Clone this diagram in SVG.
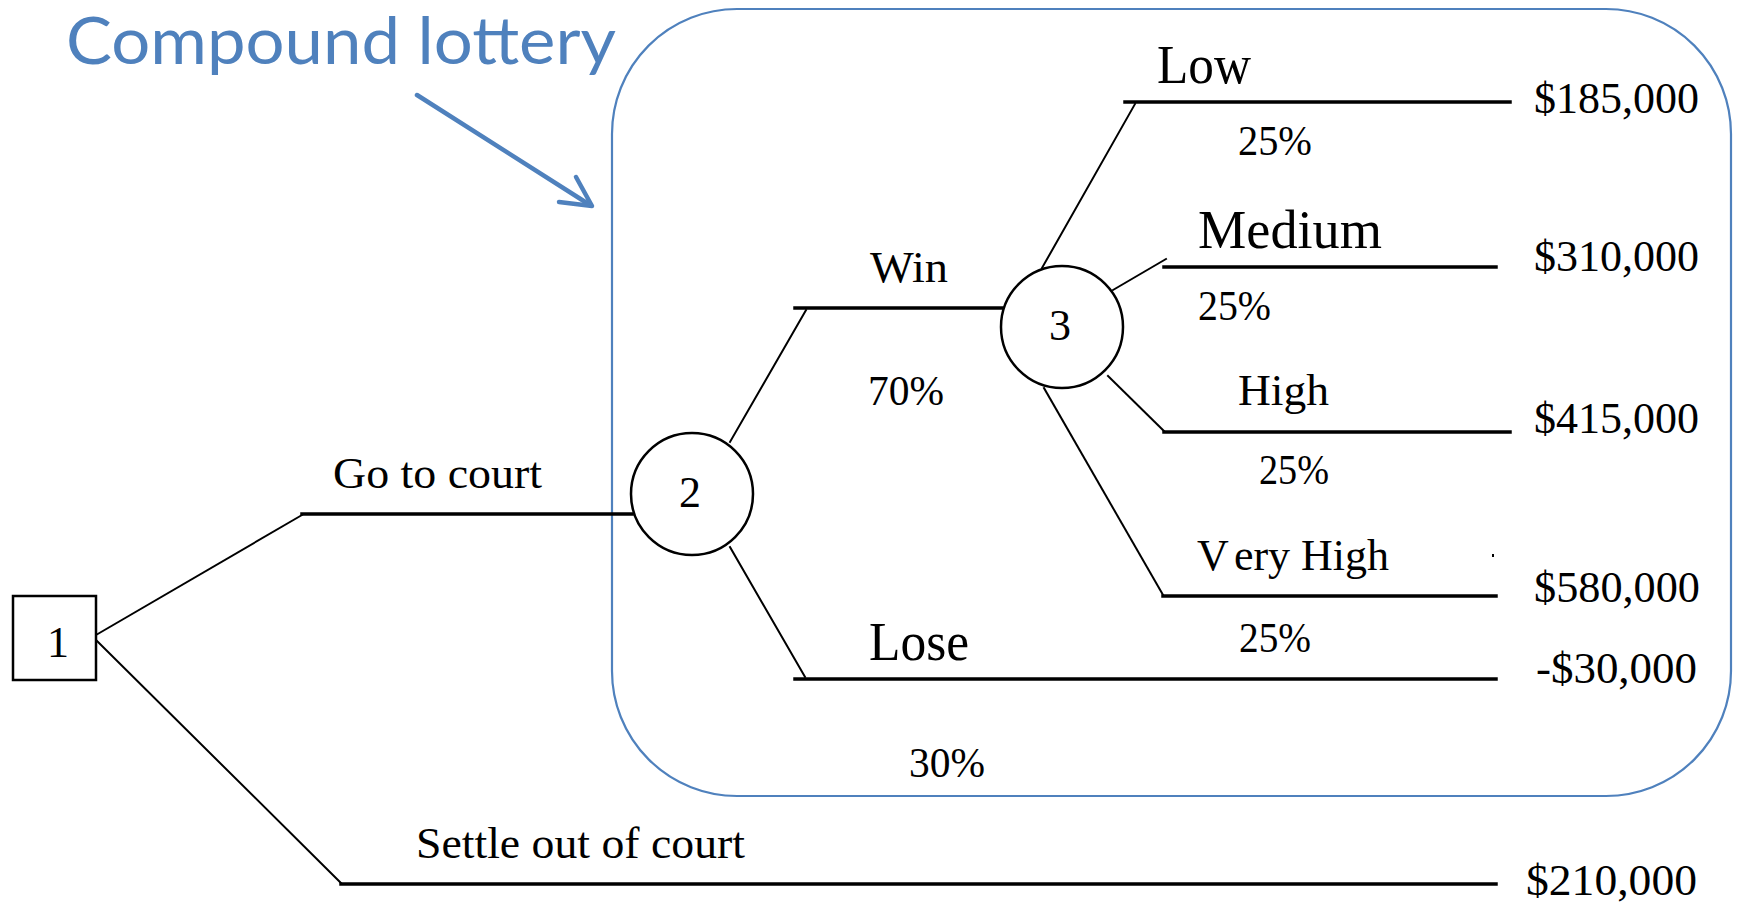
<svg xmlns="http://www.w3.org/2000/svg" width="1737" height="903" viewBox="0 0 1737 903">
<style>
.t{font-family:"Liberation Serif","Times New Roman",serif;fill:#000}
.s{font-size:44px}
.b{font-size:54px}
.p{font-size:42px}
.ln{stroke:#000;fill:none;stroke-linecap:square}
.h{stroke-width:3.5}
.d{stroke-width:2}
.nd{fill:#fff;stroke:#000;stroke-width:2.5}
.blue{stroke:#4F81BD;fill:none}
</style>
<rect width="1737" height="903" fill="#fff"/>
<g id="lottery-frame">
<rect class="blue" x="612" y="9" width="1119" height="787" rx="125" ry="125" stroke-width="2.2"/>
</g>
<g id="title">
<text x="66" y="64" font-family="Lato,'Open Sans',sans-serif" font-size="66" fill="#4F81BD" textLength="550" lengthAdjust="spacingAndGlyphs">Compound lottery</text>
<g class="blue" stroke-width="4.5" stroke-linecap="round" stroke-linejoin="round">
<line x1="417" y1="95" x2="590" y2="205"/>
<polyline points="559,202 592,206 576,177"/>
</g>
</g>
<g id="connectors">
<polyline class="ln d" points="96,635 302,515"/>
<line class="ln h" x1="302" y1="514" x2="632" y2="514"/>
<polyline class="ln d" points="96,640 341,883"/>
<line class="ln h" x1="341" y1="884" x2="1496" y2="884"/>
<line class="ln d" x1="730" y1="442" x2="806" y2="310"/>
<line class="ln h" x1="795" y1="308" x2="1002" y2="308"/>
<line class="ln d" x1="730" y1="547" x2="805" y2="677"/>
<line class="ln h" x1="795" y1="679" x2="1496" y2="679"/>
<line class="ln d" x1="1042" y1="268" x2="1135" y2="104"/>
<line class="ln h" x1="1125" y1="102" x2="1510" y2="102"/>
<line class="ln d" x1="1113" y1="290" x2="1166" y2="259"/>
<line class="ln h" x1="1164" y1="267" x2="1496" y2="267"/>
<line class="ln d" x1="1108" y1="376" x2="1164" y2="431"/>
<line class="ln h" x1="1164" y1="432" x2="1510" y2="432"/>
<line class="ln d" x1="1044" y1="388" x2="1163" y2="595"/>
<line class="ln h" x1="1163" y1="596" x2="1496" y2="596"/>
<rect x="1492" y="554" width="2" height="3" fill="#000"/>
</g>
<g id="node-1">
<rect class="nd" x="13" y="596" width="83" height="84" stroke-width="3"/>
<text class="t s" x="58" y="657" text-anchor="middle">1</text>
</g>
<g id="node-2">
<circle class="nd" cx="692" cy="494" r="61"/>
<text class="t s" x="690" y="507" text-anchor="middle">2</text>
</g>
<g id="node-3">
<circle class="nd" cx="1062" cy="327" r="61"/>
<text class="t s" x="1060" y="340" text-anchor="middle">3</text>
</g>
<g id="labels">
<text class="t s" x="333" y="488" textLength="209" lengthAdjust="spacingAndGlyphs">Go to court</text>
<text class="t s" x="416" y="858" textLength="329" lengthAdjust="spacingAndGlyphs">Settle out of court</text>
<text class="t s" x="870" y="282" textLength="78" lengthAdjust="spacingAndGlyphs">Win</text>
<text class="t p" x="868" y="405" textLength="76" lengthAdjust="spacingAndGlyphs">70%</text>
<text class="t b" x="869" y="660" textLength="100" lengthAdjust="spacingAndGlyphs">Lose</text>
<text class="t p" x="909" y="777" textLength="76" lengthAdjust="spacingAndGlyphs">30%</text>
<text class="t b" x="1157" y="83" textLength="94" lengthAdjust="spacingAndGlyphs">Low</text>
<text class="t p" x="1238" y="155" textLength="74" lengthAdjust="spacingAndGlyphs">25%</text>
<text class="t b" x="1198" y="248" textLength="184" lengthAdjust="spacingAndGlyphs">Medium</text>
<text class="t p" x="1198" y="320" textLength="73" lengthAdjust="spacingAndGlyphs">25%</text>
<text class="t s" x="1238" y="405" textLength="91" lengthAdjust="spacingAndGlyphs">High</text>
<text class="t p" x="1259" y="484" textLength="70" lengthAdjust="spacingAndGlyphs">25%</text>
<text class="t s" x="1197" y="570">V<tspan dx="10">ery High</tspan></text>
<text class="t p" x="1239" y="652" textLength="72" lengthAdjust="spacingAndGlyphs">25%</text>
<text class="t s" x="1534" y="113" textLength="165" lengthAdjust="spacingAndGlyphs">$185,000</text>
<text class="t s" x="1534" y="271" textLength="165" lengthAdjust="spacingAndGlyphs">$310,000</text>
<text class="t s" x="1534" y="433" textLength="165" lengthAdjust="spacingAndGlyphs">$415,000</text>
<text class="t s" x="1534" y="602" textLength="166" lengthAdjust="spacingAndGlyphs">$580,000</text>
<text class="t s" x="1536" y="683" textLength="161" lengthAdjust="spacingAndGlyphs">-$30,000</text>
<text class="t s" x="1526" y="895" textLength="171" lengthAdjust="spacingAndGlyphs">$210,000</text>
</g>
</svg>
